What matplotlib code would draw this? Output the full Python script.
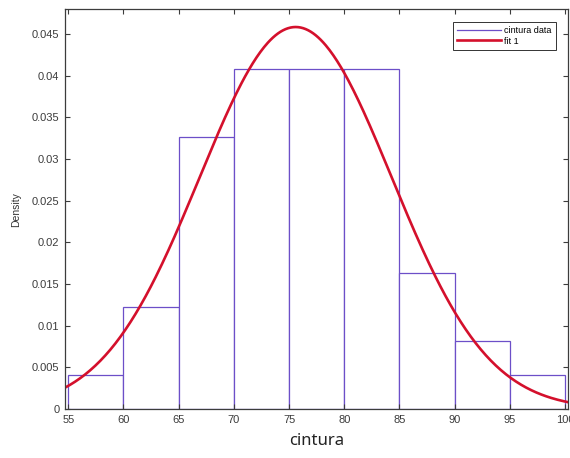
import numpy as np
import matplotlib
matplotlib.use("Agg")
import matplotlib.pyplot as plt
from matplotlib.lines import Line2D

# histogram of cintura (density normalised), bin width 5
bin_edges = [55, 60, 65, 70, 75, 80, 85, 90, 95, 100]
density = [0.0041, 0.0122, 0.0327, 0.0408, 0.0408, 0.0408, 0.0163, 0.0082, 0.0041]

# normal fit
fit_mu = 75.6
fit_sigma = 8.7

x_ticks = [55, 60, 65, 70, 75, 80, 85, 90, 95, 100]
y_ticks = [0, 0.005, 0.01, 0.015, 0.02, 0.025, 0.03, 0.035, 0.04, 0.045]
y_ticklabels = ["0", "0.005", "0.01", "0.015", "0.02", "0.025", "0.03", "0.035", "0.04", "0.045"]
legend_labels = ["cintura data", "fit 1"]

hist_color = "#6c4fc8"
fit_color = "#d4102c"
axis_color = "#3c3c3c"

fig = plt.figure(figsize=(5.7, 4.58), dpi=100)
ax = fig.add_axes([0.114, 0.107, 0.882, 0.873])

left = np.array(bin_edges[:-1])
widths = np.diff(bin_edges)
ax.bar(left, density, width=widths, align="edge", facecolor="white",
       edgecolor=hist_color, linewidth=0.9)

xlo, xhi = 54.7, 100.25
xs = np.linspace(xlo, xhi, 400)
pdf = np.exp(-0.5 * ((xs - fit_mu) / fit_sigma) ** 2) / (fit_sigma * np.sqrt(2 * np.pi))
ax.plot(xs, pdf, color=fit_color, linewidth=1.9)

ax.set_xlim(xlo, xhi)
ax.set_ylim(0, 0.048)
ax.set_xticks(x_ticks)
ax.set_xticklabels([str(v) for v in x_ticks])
ax.set_yticks(y_ticks)
ax.set_yticklabels(y_ticklabels)

ax.tick_params(direction="in", top=True, right=True, length=3.5, width=0.8,
               colors=axis_color, labelsize=8, pad=4)
for lab in ax.get_xticklabels() + ax.get_yticklabels():
    lab.set_family("Liberation Sans")
for sp in ax.spines.values():
    sp.set_color(axis_color)
    sp.set_linewidth(0.9)

ax.set_ylabel("Density", fontsize=7.5, family="Liberation Sans", color="#333333", labelpad=8)
ax.set_xlabel("cintura", fontsize=12, family="Noto Sans", color="#222222", labelpad=6)

handles = [Line2D([], [], color=hist_color, linewidth=0.9),
           Line2D([], [], color=fit_color, linewidth=1.9)]
leg = ax.legend(handles, legend_labels, loc="upper right",
                prop={"family": "Liberation Sans", "size": 6.5},
                frameon=True, fancybox=False, edgecolor="black", handlelength=4.8,
                borderpad=0.45, labelspacing=0.2, handletextpad=0.4,
                bbox_to_anchor=(0.985, 0.98))
leg.get_frame().set_linewidth(0.7)

fig.savefig("out.png", dpi=100)
